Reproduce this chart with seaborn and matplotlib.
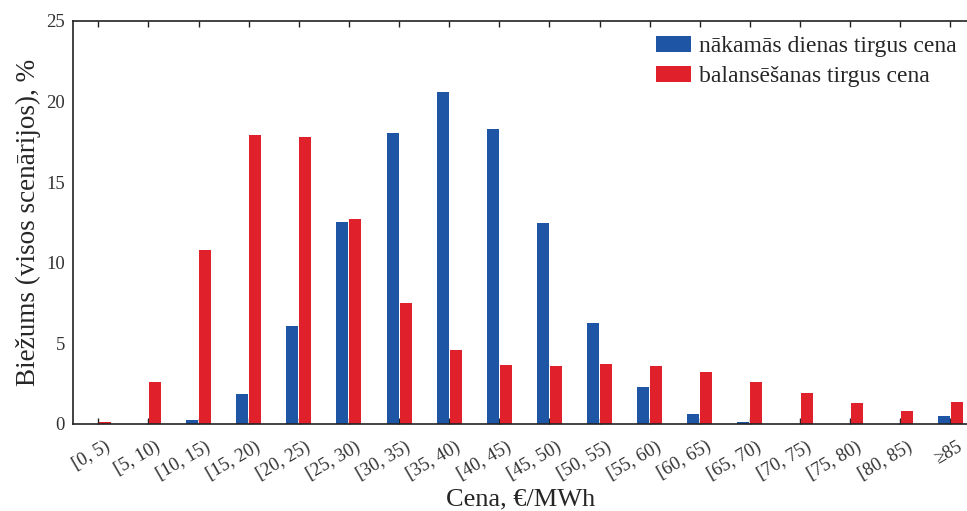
import matplotlib
matplotlib.use("Agg")
import matplotlib.pyplot as plt
import matplotlib.transforms as mtransforms
import seaborn as sns
import pandas as pd
from matplotlib.patches import Patch

categories = ["[0, 5)", "[5, 10)", "[10, 15)", "[15, 20)", "[20, 25)", "[25, 30)",
              "[30, 35)", "[35, 40)", "[40, 45)", "[45, 50)", "[50, 55)", "[55, 60)",
              "[60, 65)", "[65, 70)", "[70, 75)", "[75, 80)", "[80, 85)", "\u226585"]
day_ahead = [0.0, 0.0, 0.25, 1.87, 6.1, 12.5, 18.05, 20.55, 18.3, 12.45, 6.28, 2.3,
             0.62, 0.12, 0.0, 0.0, 0.0, 0.5]
balancing = [0.12, 2.61, 10.76, 17.9, 17.78, 12.69, 7.52, 4.6, 3.67, 3.6, 3.73, 3.6,
             3.23, 2.61, 1.93, 1.3, 0.8, 1.37]
series_names = ["nākamās dienas tirgus cena", "balansēšanas tirgus cena"]
colors = ["#1F55A5", "#E0202A"]

df = pd.DataFrame({
    "cat": categories * 2,
    "val": day_ahead + balancing,
    "series": [series_names[0]] * len(categories) + [series_names[1]] * len(categories),
})

sns.set_style("white")
plt.rcParams["font.family"] = ["Liberation Serif", "DejaVu Serif"]
plt.rcParams["mathtext.fontset"] = "stix"

fig = plt.figure(figsize=(9.67, 5.11), dpi=100)
ax = fig.add_axes([73.3 / 967, 1 - 424 / 511, 1 - 73.3 / 967, (424 - 20.7) / 511])

sns.barplot(data=df, x="cat", y="val", hue="series", order=categories,
            hue_order=series_names, palette=colors, width=0.52, gap=0.08,
            saturation=1, ax=ax, legend=False, linewidth=0)

ax.set_xlim(-0.5, 17.33)
ax.set_ylim(0, 25)
ax.set_yticks([0, 5, 10, 15, 20, 25])
ax.spines["right"].set_visible(False)
for s in ["left", "top", "bottom"]:
    ax.spines[s].set_color("#222222")
    ax.spines[s].set_linewidth(1.2)

ax.tick_params(axis="x", which="both", direction="in", length=4, width=1,
               top=True, bottom=True, color="#222222", labelsize=13.5, pad=10)
ax.tick_params(axis="y", length=0, labelsize=13.5, pad=6, labelcolor="#333333")
offset = mtransforms.ScaledTranslation(6 / 100, 0, fig.dpi_scale_trans)
for lab in ax.get_xticklabels():
    lab.set_rotation(30)
    lab.set_ha("right")
    lab.set_rotation_mode("anchor")
    lab.set_color("#333333")
    lab.set_transform(lab.get_transform() + offset)

ax.set_xlabel("Cena, €/MWh", fontsize=19, labelpad=4)
ax.set_ylabel("Biežums (visos scenārijos), %", fontsize=19.5, labelpad=4)

handles = [Patch(facecolor=c, edgecolor="none") for c in colors]
ax.legend(handles, series_names, loc="upper right", bbox_to_anchor=(0.9888, 0.962),
          frameon=False, fontsize=17, handlelength=1.48, handleheight=0.68,
          handletextpad=0.34, labelspacing=0.36, borderpad=0, borderaxespad=0)

fig.savefig("out.png", dpi=100)
